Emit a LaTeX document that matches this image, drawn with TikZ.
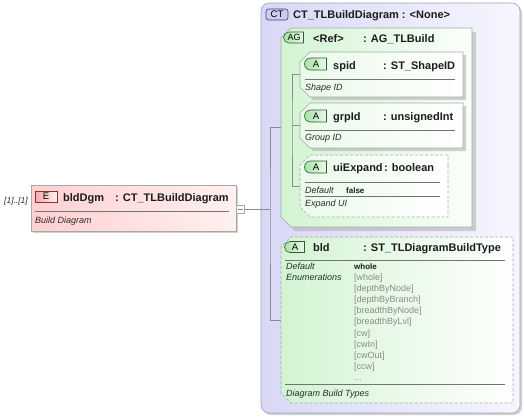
\documentclass[tikz,border=0pt]{standalone}
\usepackage{fontspec}
\setmainfont{Liberation Sans}
\usepackage{tikz}
\usetikzlibrary{shapes.misc}
\usetikzlibrary{shadows}
\usetikzlibrary{fit}
\usetikzlibrary{positioning}

\definecolor{ctleft}{HTML}{D8D8F6}
\definecolor{ctright}{HTML}{F6F6FF}
\definecolor{ctline}{HTML}{A0A0B8}
\definecolor{elemleft}{HTML}{FFD0D0}
\definecolor{elemright}{HTML}{FFF0F0}
\definecolor{grpleft}{HTML}{D2F4D2}
\definecolor{grpright}{HTML}{FAFFFA}
\definecolor{attrleft}{HTML}{EAFAEA}
\definecolor{boxline}{HTML}{A8A8A8}
\definecolor{connline}{HTML}{8C8C8C}
\definecolor{tagred}{HTML}{F4A8A8}
\definecolor{tagredline}{HTML}{8A3030}
\definecolor{tagblue}{HTML}{CCCCF2}
\definecolor{tagblueline}{HTML}{3C3C78}
\definecolor{taggreen}{HTML}{A8E2A8}
\definecolor{taggreenline}{HTML}{305C30}
\definecolor{nametext}{HTML}{1C1C1C}
\definecolor{doctext}{HTML}{2C2C2C}
\definecolor{enumtext}{HTML}{8A8A8A}

\tikzset{
    boxshadow/.style={drop shadow={shadow xshift=#1,shadow yshift=-#1,fill=black!30,opacity=0.6}},
    elembox/.style={draw=boxline, line width=0.6pt, inner sep=0pt, left color=elemleft, right color=elemright, boxshadow=2pt},
    ctbox/.style={draw=ctline, line width=0.6pt, inner sep=0pt, rounded corners=8pt, left color=ctleft, right color=ctright, boxshadow=2pt},
    % the chamfer is added round the fitted box
    chambox/.style={chamfered rectangle, chamfered rectangle corners={north west,south west},
        chamfered rectangle xsep=#1, chamfered rectangle ysep=#1, inner sep=0pt},
    grpbox/.style={chambox=5pt, draw=boxline, line width=0.6pt, left color=grpleft, right color=grpright, boxshadow=4pt},
    attrbox/.style={chambox=5pt, draw=boxline, line width=0.6pt, left color=attrleft, right color=white, boxshadow=3pt},
    optbox/.style={chambox=5pt, draw=boxline, line width=0.6pt, dash pattern=on 3pt off 2pt, left color=#1, right color=white},
    etag/.style={draw=tagredline, line width=0.6pt, left color=tagred, right color=elemright, minimum width=22pt, minimum height=11pt, inner sep=0pt, font=\fontsize{9.5}{10}\selectfont},
    cttag/.style={draw=tagblueline, line width=0.6pt, rounded corners=2.5pt, fill=tagblue, minimum width=22pt, minimum height=11pt, inner sep=0pt, font=\fontsize{9.5}{10}\selectfont},
    gtag/.style={rounded rectangle, rounded rectangle right arc=none, draw=taggreenline, line width=0.6pt, left color=taggreen, right color=attrleft, minimum width=#1, minimum height=12pt, inner sep=0pt, font=\fontsize{9.5}{10}\selectfont},
    namelbl/.style={anchor=base west, inner sep=0pt, text=nametext, font=\fontsize{11}{12}\selectfont\bfseries},
    doclbl/.style={anchor=base west, inner sep=0pt, text=doctext, font=\fontsize{9}{10}\selectfont\itshape},
    deflbl/.style={anchor=base west, inner sep=0pt, text=nametext, font=\fontsize{8}{9}\selectfont\bfseries},
    enumlbl/.style={anchor=base west, inner sep=0pt, text=enumtext, font=\fontsize{9}{11}\selectfont},
    sepline/.style={draw=black!55, line width=0.5pt},
    conn/.style={draw=connline, line width=0.5pt},
}

\begin{document}
\begin{tikzpicture}[x=1pt,y=-1pt]
        \useasboundingbox (0,0) rectangle (524,418);

        % element
        \node[elembox, fit={(31,185) (236,231)}] (elembox) {};
        \node[etag] (elemtag) at (46,196.5) {E};
        \node[namelbl] (elemname) at (63,201) {bldDgm};
        \node[namelbl] (elemtype) at (115,201) {: CT\_TLBuildDiagram};
        \draw[sepline] (35,211) -- (229,211);
        \node[doclbl] (elemdoc) at (35,223) {Build Diagram};
        \node[doclbl, anchor=base east, font=\fontsize{8.5}{9}\selectfont\itshape] (elemocc) at (28,203) {[1]..[1]};
        \node[draw=boxline, fill=white, line width=0.5pt, minimum size=8pt, inner sep=0pt] (elemfold) at (240.5,209) {};
        \draw[connline, line width=0.6pt] ([xshift=2pt]elemfold.west) -- ([xshift=-2pt]elemfold.east);

        % complex type
        \node[ctbox, fit={(261,3) (520,413)}] (ctbox) {};
        \node[cttag] (cttag) at (277,14.5) {CT};
        \node[namelbl] (ctname) at (293,18) {CT\_TLBuildDiagram : <None>};

        % attribute group
        \node[grpbox, fit={(286,33) (467,222)}] (agbox) {};
        \node[gtag=20pt, minimum height=11pt, font=\fontsize{9}{10}\selectfont] (agtag) at (294,37.5) {AG};
        \node[namelbl] (agname) at (313,42) {<Ref>};
        \node[namelbl] (agtype) at (363,42) {: AG\_TLBuild};

        \node[attrbox, fit={(305,57) (458,92)}] (spidbox) {};
        \node[gtag=22pt] (spidtag) at (316,64) {A};
        \node[namelbl] (spidname) at (333,69) {spid};
        \node[namelbl] (spidtype) at (383,69) {: ST\_ShapeID};
        \draw[sepline] (305,79) -- (455,79);
        \node[doclbl] (spiddoc) at (305,90) {Shape ID};

        \node[attrbox, fit={(305,108) (458,143)}] (grpidbox) {};
        \node[gtag=22pt] (grpidtag) at (316,116) {A};
        \node[namelbl] (grpidname) at (333,120) {grpId};
        \node[namelbl] (grpidtype) at (383,120) {: unsignedInt};
        \draw[sepline] (305,130) -- (455,130);
        \node[doclbl] (grpiddoc) at (305,140) {Group ID};

        \node[optbox=attrleft, fit={(305,160) (443,212)}] (uiexpbox) {};
        \node[gtag=22pt] (uiexptag) at (316,167) {A};
        \node[namelbl] (uiexpname) at (333,171) {uiExpand};
        \node[namelbl] (uiexptype) at (384,171) {: boolean};
        \draw[sepline] (305,182) -- (440,182);
        \node[doclbl] (uiexpdeflbl) at (305,193) {Default};
        \node[deflbl] (uiexpdef) at (346,193) {false};
        \draw[sepline] (305,196) -- (440,196);
        \node[doclbl] (uiexpdoc) at (305,206) {Expand UI};

        % attribute bld
        \node[optbox=grpleft, fit={(286,242) (508,398)}] (bldbox) {};
        \node[gtag=20pt, minimum height=11pt] (bldtag) at (295,247) {A};
        \node[namelbl] (bldname) at (313,251) {bld};
        \node[namelbl] (bldtype) at (363,251) {: ST\_TLDiagramBuildType};
        \draw[sepline] (285,260) -- (505,260);
        \node[doclbl] (blddeflbl) at (286,269) {Default};
        \node[doclbl] (bldenumlbl) at (286,280.5) {Enumerations};
        \node[deflbl] (blddef) at (354,269) {whole};
        \foreach \enumval [count=\i from 0] in {whole,depthByNode,depthByBranch,breadthByNode,breadthByLvl,cw,cwIn,cwOut,ccw}
        {
            \node[enumlbl] (bldenum\i) at (354,{280.5+11.1*\i}) {[\enumval]};
        }
        \node[enumlbl] (bldenummore) at (354,380) {...};
        \draw[sepline] (285,384) -- (505,384);
        \node[doclbl] (blddoc) at (286,396) {Diagram Build Types};

        % connectors
        \coordinate (cttrunk) at (270,209);
        \coordinate (agtrunk) at (292,125);
        \draw[conn] (elemfold.east) -- (cttrunk);
        \draw[conn] (agbox.west) -| (cttrunk) |- (bldbox.west);
        \draw[conn] (spidbox.west) -| (agtrunk) |- (uiexpbox.west);
        \draw[conn] (grpidbox.west) -- (grpidbox.west -| agtrunk);
\end{tikzpicture}
\end{document}
